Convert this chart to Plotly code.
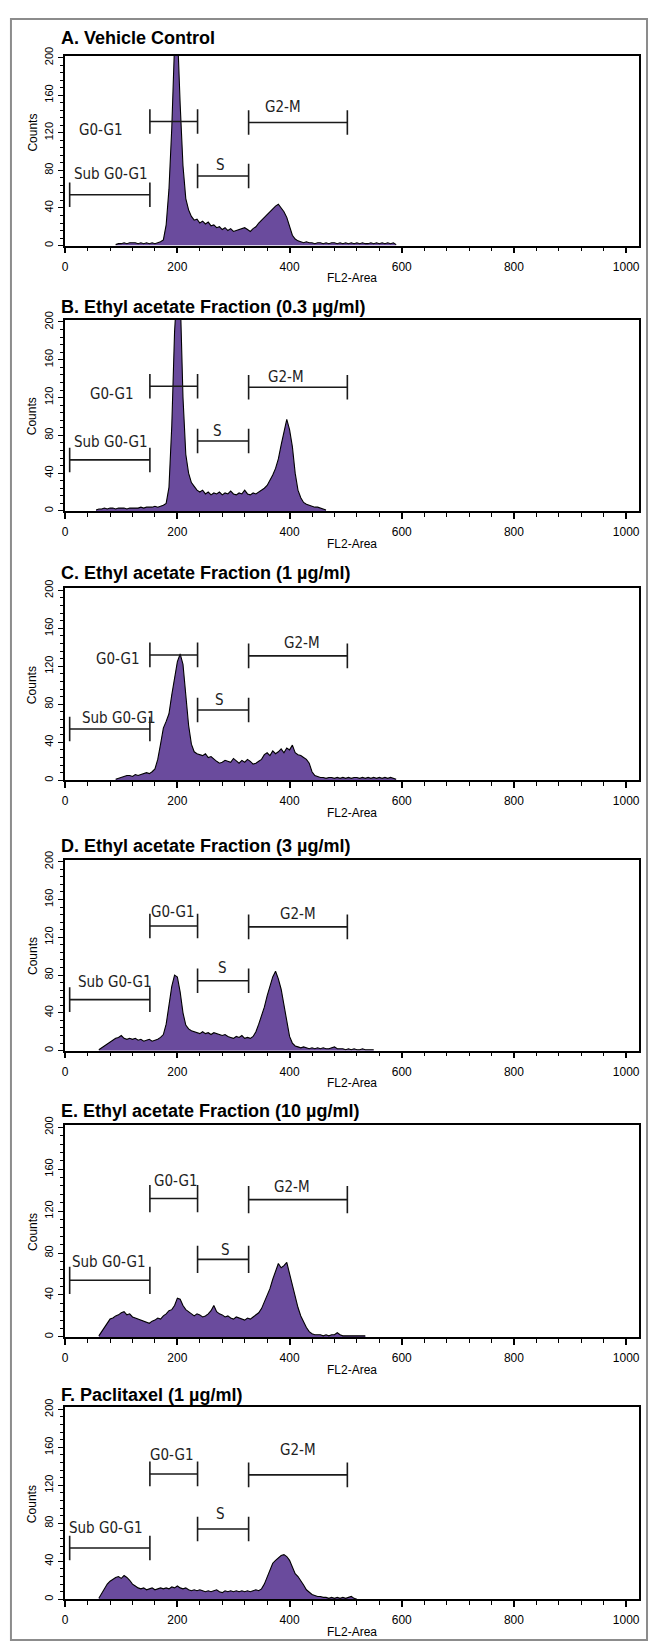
import plotly.graph_objects as go

W, H = 650, 1647

titles = [
    "A. Vehicle Control",
    "B. Ethyl acetate Fraction (0.3 µg/ml)",
    "C. Ethyl acetate Fraction (1 µg/ml)",
    "D. Ethyl acetate Fraction (3 µg/ml)",
    "E. Ethyl acetate Fraction (10 µg/ml)",
    "F. Paclitaxel (1 µg/ml)",
]

bin_width = 5
x_ticks = [0, 200, 400, 600, 800, 1000]
y_ticks = [0, 40, 80, 120, 160, 200]

# histogram counts (FL2-Area channel bins of width 5, first bin centre given)
A_start = 90
A_counts = [1, 2, 2, 3, 2, 3, 3, 3, 2, 3, 2, 3, 2, 3, 2, 3, 4, 6, 22, 60,
            125, 215, 230, 150, 85, 50, 38, 31, 27, 28, 24, 26, 23, 25, 21, 22, 19, 20, 17, 19,
            16, 18, 15, 16, 17, 18, 19, 17, 15, 18, 20, 24, 27, 31, 34, 37, 39, 42, 44, 40,
            36, 30, 20, 11, 7, 5, 4, 3, 4, 3, 3, 2, 3, 3, 2, 3, 2, 3, 3, 2,
            3, 2, 3, 2, 3, 2, 3, 2, 3, 2, 2, 3, 2, 3, 2, 3, 2, 3, 2, 3, 1]

B_start = 55
B_counts = [1, 2, 2, 3, 2, 3, 3, 2, 3, 3, 3, 2, 3, 3, 3, 3, 4, 3, 4, 4,
            4, 5, 4, 5, 6, 8, 25, 90, 190, 240, 230, 120, 60, 40, 30, 26, 22, 20, 22, 18,
            20, 17, 19, 18, 20, 17, 19, 18, 21, 18, 17, 19, 18, 22, 18, 17, 19, 18, 20, 22,
            24, 27, 32, 38, 45, 55, 70, 82, 97, 86, 68, 40, 22, 14, 9, 7, 6, 5, 4, 4,
            3, 2, 1]

C_start = 90
C_counts = [1, 2, 3, 4, 5, 5, 4, 6, 5, 6, 7, 8, 7, 9, 12, 22, 38, 55, 62, 70,
            90, 110, 125, 133, 122, 90, 58, 38, 30, 28, 27, 26, 28, 24, 25, 22, 20, 18, 19, 21,
            20, 19, 23, 20, 18, 21, 19, 22, 20, 17, 18, 20, 22, 27, 29, 26, 31, 28, 30, 33,
            29, 34, 32, 37, 29, 27, 26, 24, 22, 18, 9, 5, 4, 3, 3, 2, 3, 3, 2, 3,
            2, 3, 2, 3, 2, 3, 3, 2, 3, 2, 3, 2, 3, 2, 3, 2, 3, 2, 3, 2, 1]

D_start = 60
D_counts = [1, 3, 5, 7, 9, 11, 13, 14, 16, 13, 12, 13, 12, 13, 11, 12, 10, 11, 12, 10,
            11, 12, 14, 17, 28, 50, 68, 80, 78, 62, 40, 27, 23, 21, 20, 19, 18, 20, 18, 19,
            17, 19, 18, 17, 16, 17, 15, 14, 13, 15, 14, 16, 13, 14, 13, 15, 20, 28, 36, 46,
            58, 68, 78, 84, 76, 65, 48, 30, 15, 8, 5, 4, 3, 4, 3, 2, 3, 2, 3, 2,
            3, 2, 2, 3, 4, 2, 2, 2, 1, 2, 1, 2, 1, 1, 2, 1, 1, 1, 1]

E_start = 60
E_counts = [1, 5, 10, 14, 17, 18, 20, 21, 23, 24, 21, 22, 19, 18, 17, 16, 15, 14, 13, 15,
            16, 18, 17, 20, 22, 25, 26, 30, 37, 36, 30, 26, 24, 22, 20, 22, 21, 19, 20, 22,
            25, 30, 24, 22, 21, 19, 20, 18, 17, 19, 18, 17, 16, 18, 17, 19, 21, 23, 27, 33,
            40, 46, 55, 62, 70, 66, 68, 71, 60, 50, 38, 28, 20, 14, 9, 5, 3, 2, 2, 2,
            1, 2, 1, 2, 2, 4, 2, 1, 1, 1, 1, 1, 1, 1, 1, 1]

F_start = 60
F_counts = [1, 6, 12, 16, 19, 21, 23, 24, 22, 25, 23, 20, 16, 14, 12, 11, 12, 10, 11, 12,
            10, 11, 12, 11, 12, 11, 13, 12, 14, 12, 11, 12, 10, 9, 10, 9, 10, 9, 8, 9,
            8, 9, 10, 8, 7, 9, 8, 9, 8, 9, 8, 9, 8, 9, 8, 9, 10, 9, 11, 16,
            24, 32, 38, 41, 44, 46, 47, 45, 41, 33, 27, 24, 20, 15, 10, 7, 5, 4, 3, 3,
            2, 2, 1, 2, 1, 2, 1, 2, 1, 2, 3, 1, 0]

starts = [A_start, B_start, C_start, D_start, E_start, F_start]
counts = [A_counts, B_counts, C_counts, D_counts, E_counts, F_counts]

# gates: name, low, high, level
gate_names = ["Sub G0-G1", "G0-G1", "S", "G2-M"]
gate_low = [8, 151, 236, 327]
gate_high = [151, 236, 327, 503]
gate_level = [54, 132, 74, 131]
cap_half = 13

# gate label positions per panel (x, y) in data units
label_pos = [
    [(80, 76), (63, 123), (276, 86), (389, 147)],
    [(80, 73), (84, 124), (272, 85), (394, 142)],
    [(95, 66), (94, 128), (275, 85), (422, 145)],
    [(88, 73), (193, 147), (280, 87), (415, 145)],
    [(77, 71), (197, 149), (285, 83), (404, 143)],
    [(71, 75), (191, 152), (276, 90), (415, 157)],
]

# panel geometry in pixels: plot top, zero line, title centre
plot_top = [47, 313, 583, 856, 1123, 1407]
plot_zero = [238, 505, 776, 1048, 1336, 1600]
title_y = [29, 300, 567, 842, 1109, 1394]
counts_y = [120, 100, 100, 100, 100, 100]

x_left, x_right = 62, 640
x_range = [-1, 1023]
y_range = [0, 202]

fig = go.Figure()
purple = "#6a4b9d"
label_font = dict(family="Liberation Sans Narrow, DejaVu Sans Condensed, Arial Narrow, Liberation Sans, sans-serif",
                  size=15, color="#222222")

annotations = []
for i in range(6):
    k = "" if i == 0 else str(i + 1)
    xa, ya = "x" + k, "y" + k
    xs = [starts[i] + bin_width * j for j in range(len(counts[i]))]
    fig.add_trace(go.Scatter(
        x=xs, y=counts[i], mode="lines", line=dict(color="black", width=1.1),
        fill="tozeroy", fillcolor=purple, xaxis=xa, yaxis=ya, showlegend=False,
        hoverinfo="skip"))
    # gates
    gx, gy = [], []
    for lo, hi, lv in zip(gate_low, gate_high, gate_level):
        gx += [lo, hi, None, lo, lo, None, hi, hi, None]
        gy += [lv, lv, None, lv - cap_half, lv + cap_half, None, lv - cap_half, lv + cap_half, None]
    fig.add_trace(go.Scatter(x=gx, y=gy, mode="lines", line=dict(color="#1a1a1a", width=1.6),
                             xaxis=xa, yaxis=ya, showlegend=False, hoverinfo="skip"))
    for name, (lx, ly) in zip(gate_names, label_pos[i]):
        annotations.append(dict(x=lx, y=ly, xref=xa, yref=ya, text=name, showarrow=False,
                                font=label_font, xanchor="center", yanchor="middle"))
    # axis layout
    dom_y = [1 - plot_zero[i] / H, 1 - plot_top[i] / H]
    fig.layout["xaxis" + k] = dict(
        domain=[x_left / W, x_right / W], range=x_range, anchor=ya,
        tickvals=x_ticks, ticks="outside", ticklen=6, tickwidth=1.5, tickcolor="black",
        showline=True, linecolor="black", linewidth=1.6, mirror=True, showgrid=False,
        zeroline=False, tickfont=dict(family="Liberation Sans, Arial, sans-serif", size=12, color="black"),
        ticklabelstandoff=3,
        minor=dict(dtick=40, tick0=0, ticks="outside", ticklen=4, tickwidth=1.2, tickcolor="black"),
        fixedrange=True)
    fig.layout["yaxis" + k] = dict(
        domain=dom_y, range=y_range, anchor=xa,
        tickvals=y_ticks, ticks="outside", ticklen=5, tickwidth=1.3, tickcolor="black",
        showline=True, linecolor="black", linewidth=1.6, mirror=True, showgrid=False,
        zeroline=False, tickangle=-90,
        tickfont=dict(family="Liberation Sans, Arial, sans-serif", size=11, color="black"),
        minor=dict(dtick=8, tick0=0, ticks="outside", ticklen=3, tickwidth=1, tickcolor="black"),
        fixedrange=True)
    annotations.append(dict(x=56 / W, y=1 - title_y[i] / H, xref="paper", yref="paper",
                            text="<b>" + titles[i] + "</b>", showarrow=False, xanchor="left",
                            yanchor="middle",
                            font=dict(family="Liberation Sans, Arial, sans-serif", size=18, color="black")))
    annotations.append(dict(x=30 / W, y=counts_y[i], xref="paper", yref=ya, text="Counts",
                            textangle=-90, showarrow=False, xanchor="center", yanchor="middle",
                            font=dict(family="Liberation Sans, Arial, sans-serif", size=12, color="black")))
    annotations.append(dict(x=(x_left + x_right) / 2 / W, y=1 - (plot_zero[i] + 33) / H,
                            xref="paper", yref="paper", text="FL2-Area", showarrow=False,
                            xanchor="center", yanchor="middle",
                            font=dict(family="Liberation Sans, Arial, sans-serif", size=12, color="black")))

fig.update_layout(
    width=W, height=H, margin=dict(l=0, r=0, t=0, b=0),
    paper_bgcolor="white", plot_bgcolor="white",
    annotations=annotations,
    shapes=[dict(type="rect", xref="paper", yref="paper", x0=8 / W, x1=648 / W,
                 y0=1 - 1641 / H, y1=1 - 10 / H, line=dict(color="#8c8c8c", width=2),
                 fillcolor="rgba(0,0,0,0)", layer="below")],
)

fig.write_html("out.html", config={"displayModeBar": False},
               post_script="document.body.style.margin='0';document.body.style.overflow='hidden';")
